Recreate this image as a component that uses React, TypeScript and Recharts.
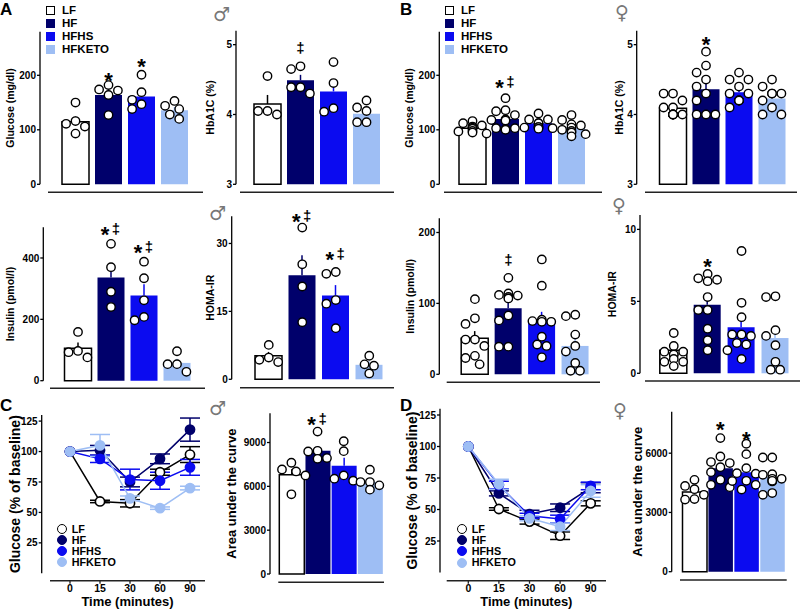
import React from 'react';
import { ComposedChart, Bar, Cell, ErrorBar, Scatter, Line, XAxis, YAxis } from 'recharts';

const FONT = '"Liberation Sans", Arial, Helvetica, sans-serif';
const SYMBOL_FONT = '"DejaVu Sans", sans-serif';

const GROUPS = ['LF', 'HF', 'HFHS', 'HFKETO'];
const FILL: Record<string, string> = { LF: '#ffffff', HF: '#00006b', HFHS: '#0b0bf0', HFKETO: '#9ebef4' };
const INK: Record<string, string> = { LF: '#000000', HF: '#00006b', HFHS: '#0b0bf0', HFKETO: '#9ebef4' };

type Sig = { g: number; y: number; mark: string };

// ---- A: male glucose / HbA1C
const glucoseMaleMean = [115, 164, 161, 136];
const glucoseMalePts = [
  [150, 111, 116, 106, 93],
  [182, 172, 164, 174, 127],
  [201, 169, 155, 147, 138],
  [153, 144, 138, 128, 120],
];
const glucoseMaleSig: Sig[] = [{ g: 1, y: 199, mark: '*' }, { g: 2, y: 226, mark: '*' }];

const hba1cMaleMean = [4.15, 4.49, 4.33, 4.01];
const hba1cMalePts = [
  [4.55, 4.05, 4.0, 4.05],
  [4.69, 4.65, 4.39, 4.3, 4.39],
  [4.75, 4.45, 4.04, 4.09],
  [4.2, 4.1, 4.05, 3.89, 3.89],
];
const hba1cMaleSig: Sig[] = [{ g: 1, y: 4.95, mark: '‡' }];

// ---- B: female glucose / HbA1C
const glucoseFemaleMean = [103, 120, 112, 104];
const glucoseFemalePts = [
  [116, 112, 108, 106, 104, 102, 98, 97, 95, 93],
  [158, 136, 134, 127, 119, 117, 103, 101, 100, 103, 118],
  [130, 119, 119, 112, 112, 105, 105, 104, 103, 102],
  [127, 118, 110, 108, 104, 100, 98, 95, 92, 88],
];
const glucoseFemaleSig: Sig[] = [{ g: 1, y: 186, mark: '*‡' }];

const hba1cFemaleMean = [4.09, 4.36, 4.32, 4.23];
const hba1cFemalePts = [
  [4.3, 4.3, 4.2, 4.1, 4.1, 4.0, 4.0, 4.0, 4.0, 4.0],
  [4.9, 4.7, 4.6, 4.5, 4.4, 4.3, 4.2, 4.0, 4.0, 4.0],
  [4.6, 4.5, 4.5, 4.4, 4.3, 4.3, 4.2, 4.2, 4.2, 4.1],
  [4.5, 4.4, 4.3, 4.3, 4.3, 4.1, 4.2, 4.0, 4.0],
];
const hba1cFemaleSig: Sig[] = [{ g: 1, y: 5.08, mark: '*' }];

// ---- row 2: insulin / HOMA-IR
const insulinMaleMean = [106, 336, 278, 58];
const insulinMalePts = [
  [159, 97, 93, 76],
  [446, 370, 290, 240],
  [388, 334, 262, 197, 208],
  [96, 54, 54, 29],
];
const insulinMaleSig: Sig[] = [{ g: 1, y: 494, mark: '*‡' }, { g: 2, y: 435, mark: '*‡' }];

const homaMaleMean = [5.2, 23.0, 18.5, 3.2];
const homaMalePts = [
  [7.6, 4.8, 3.8, 4.3],
  [33.5, 25.4, 20.5, 12.6],
  [23.3, 23.7, 17.5, 16.7, 11.3],
  [5.2, 3.3, 3.0, 1.3],
];
const homaMaleSig: Sig[] = [{ g: 1, y: 35.9, mark: '*‡' }, { g: 2, y: 27.6, mark: '*‡' }];

const insulinFemaleMean = [51, 93, 75, 40];
const insulinFemalePts = [
  [106, 79, 71, 49, 49, 40, 26, 23, 14],
  [136, 114, 112, 111, 109, 107, 83, 76, 39, 39],
  [162, 125, 77, 75, 74, 74, 53, 42, 40, 24],
  [84, 82, 56, 40, 32, 16, 5, 5],
];
const insulinFemaleSig: Sig[] = [{ g: 1, y: 161, mark: '‡' }];

const homaFemaleMean = [1.6, 4.76, 3.2, 2.45];
const homaFemalePts = [
  [2.8, 1.9, 1.5, 1.5, 1.3, 1.3, 1.0, 0.8, 0.8, 0.5],
  [6.9, 6.6, 6.5, 6.4, 5.3, 4.4, 4.4, 3.1, 2.3, 1.6],
  [8.5, 4.9, 3.9, 2.7, 2.7, 2.6, 2.1, 2.0, 1.6, 1.0],
  [5.35, 5.3, 3.0, 2.6, 1.95, 0.8, 0.25, 0.25],
];
const homaFemaleSig: Sig[] = [{ g: 1, y: 7.8, mark: '*' }];

// ---- C / D: insulin tolerance curves
const TIMES = ['0', '15', '30', '60', '90'];

const ittMaleLF = [100, 59, 57.5, 83, 97.5];
const ittMaleLFSem = [0, 1, 3, 2.5, 6.5];
const ittMaleHF = [100, 101, 75, 94, 118];
const ittMaleHFSem = [0, 4, 4, 4, 9.5];
const ittMaleHFHS = [100, 94, 77, 76, 87];
const ittMaleHFHSSem = [0, 3, 8.5, 7, 6.5];
const ittMaleHFKETO = [100, 105, 61.5, 53.5, 70];
const ittMaleHFKETOSem = [0, 9, 2, 1, 1.5];

const ittFemaleLF = [100, 50.4, 40.4, 29.2, 54.9];
const ittFemaleLFSem = [0, 1, 2, 3, 2];
const ittFemaleHF = [100, 62.8, 46.4, 51.4, 67.3];
const ittFemaleHFSem = [0, 2, 3, 3, 4];
const ittFemaleHFHS = [100, 69.4, 45, 42.5, 68.7];
const ittFemaleHFHSSem = [0, 3, 2, 3, 3];
const ittFemaleHFKETO = [100, 70, 43, 36.3, 64.7];
const ittFemaleHFKETOSem = [0, 4, 2, 3, 5];

const aucMaleMean = [6800, 8430, 7410, 6290];
const aucMalePts = [
  [7614, 7021, 7157, 6748, 5453],
  [9748, 8385, 8432, 7887, 7932],
  [9087, 8410, 6750, 6387, 6523],
  [7137, 6292, 6292, 6067, 5774],
];
const aucMaleSig: Sig[] = [{ g: 1, y: 10600, mark: '*‡' }];

const aucFemaleMean = [4030, 5240, 5040, 4790];
const aucFemalePts = [
  [4650, 4178, 4340, 3894, 3675, 3650],
  [6764, 5831, 5551, 5500, 5294, 5040, 4650, 4400, 4280],
  [6476, 5952, 5243, 4990, 4960, 4590, 4400, 4157, 4600],
  [5781, 5781, 4939, 4905, 4703, 4570, 4703, 3894, 3980, 4600],
];
const aucFemaleSig: Sig[] = [{ g: 1, y: 7440, mark: '*' }, { g: 2, y: 6970, mark: '*' }];

const sem = (a: number[]) => {
  const m = a.reduce((s, v) => s + v, 0) / a.length;
  const sd = Math.sqrt(a.reduce((s, v) => s + (v - m) ** 2, 0) / (a.length - 1));
  return sd / Math.sqrt(a.length);
};

// push dots sideways so they don't overlap (pixel offsets)
function swarm(vals: number[], ppu: number) {
  const order = vals.map((_, i) => i).sort((a, b) => vals[b] - vals[a]);
  const placed: { x: number; y: number }[] = [];
  const out = new Array(vals.length).fill(0);
  order.forEach((i) => {
    const y = vals[i] * ppu;
    let pick = 0;
    for (const k of [0, -1, 1, -2, 2, -3, 3]) {
      const x = k * 4.7;
      if (placed.every((p) => Math.hypot(p.x - x, p.y - y) >= 9)) {
        pick = x;
        break;
      }
    }
    placed.push({ x: pick, y });
    out[i] = pick;
  });
  return out;
}

const tickStyle = { fontSize: 10, fontWeight: 700, fill: '#000', fontFamily: FONT };

const OpenDot = (p: any) => (
  <circle cx={p.cx} cy={p.cy} r={4.2} fill="#fff" stroke="#000" strokeWidth={1.4} />
);

const SigMark = (p: any) => {
  const { cx, cy, payload } = p;
  const st = { fontFamily: FONT, fontWeight: 700, fill: '#000' } as any;
  const star = (x: number) => (
    <text x={x} y={cy + 12.5} textAnchor="middle" fontSize={22} style={st}>*</text>
  );
  const dag = (x: number) => (
    <text x={x} y={cy + 4.5} textAnchor="middle" fontSize={15} style={st}>‡</text>
  );
  if (payload.mark === '*') return <g>{star(cx)}</g>;
  if (payload.mark === '‡') return <g>{dag(cx)}</g>;
  return <g>{star(cx - 6)}{dag(cx + 5)}</g>;
};

type Frame = {
  box: [number, number, number, number]; // left, top, right, bottom
  yAxisX: number;
  plot: [number, number, number, number]; // left, right, top, bottom
  xLineY: number;
  domain: [number, number];
  ticks: number[];
  label: string;
  labelX: number;
  labelSize: number;
  padL: number;
  padR: number;
};

function BarPanel(props: Frame & { means: number[]; pts: number[][]; sig: Sig[]; barSize: number }) {
  const { box, yAxisX, plot, xLineY, domain, ticks, label, labelX, labelSize, padL, padR, means, pts, sig, barSize } = props;
  const [bl, bt, br, bb] = box;
  const [pl, pr, pt, pb] = plot;
  const pitch = (pr - pl - padL - padR) / 4;
  const ppu = (pb - pt) / (domain[1] - domain[0]);

  const rows = means.map((m, i) => ({ x: i, mean: m, ['e' + GROUPS[i]]: [0, sem(pts[i])] }));
  const dots = pts.flatMap((vals, gi) => {
    const dx = swarm(vals, ppu);
    return vals.map((v, k) => ({ x: gi + dx[k] / pitch, v }));
  });
  const marks = sig.map((s) => ({ x: s.g, v: s.y, mark: s.mark }));

  const xCommon = { type: 'number' as const, dataKey: 'x', domain: [-0.5, 3.5], padding: { left: padL, right: padR }, tick: false, tickLine: false };
  const yCommon = { type: 'number' as const, domain };

  // bars sit on the "main" x axis; the dots go on the (identically scaled) "gap" axis
  // so that their small x offsets don't shrink the bar band
  return (
    <div style={{ position: 'absolute', left: bl, top: bt }}>
      <ComposedChart width={br - bl} height={bb - bt} data={rows} margin={{ top: pt - bt, right: br - pr, bottom: 0, left: 0 }}>
        <XAxis xAxisId="gap" {...xCommon} height={xLineY - pb} axisLine={false} />
        <XAxis xAxisId="main" {...xCommon} height={bb - xLineY} axisLine={{ stroke: '#222', strokeWidth: 1.6 }} />
        <YAxis yAxisId="gap" {...yCommon} width={pl - yAxisX} axisLine={false} tick={false} tickLine={false} />
        <YAxis
          yAxisId="main"
          {...yCommon}
          width={yAxisX - bl}
          ticks={ticks}
          interval={0}
          tickSize={3}
          tickMargin={1}
          tick={tickStyle}
          axisLine={{ stroke: '#000', strokeWidth: 1.3 }}
          tickLine={{ stroke: '#000', strokeWidth: 1.3 }}
          label={{ value: label, angle: -90, position: 'insideLeft', offset: labelX - bl, style: { textAnchor: 'middle', fontSize: labelSize, fontWeight: 700, fontFamily: FONT, fill: '#000' } }}
        />
        <Bar xAxisId="main" yAxisId="main" dataKey="mean" barSize={barSize} isAnimationActive={false}>
          {rows.map((_, i) => (
            <Cell key={i} fill={FILL[GROUPS[i]]} stroke={GROUPS[i] === 'LF' ? '#000' : 'none'} strokeWidth={1.5} />
          ))}
          {GROUPS.map((g) => (
            <ErrorBar key={g} dataKey={'e' + g} width={0} stroke={INK[g]} strokeWidth={1.5} direction="y" />
          ))}
        </Bar>
        <Scatter xAxisId="gap" yAxisId="main" data={dots} dataKey="v" shape={OpenDot} isAnimationActive={false} />
        <Scatter xAxisId="gap" yAxisId="main" data={marks} dataKey="v" shape={SigMark} isAnimationActive={false} />
      </ComposedChart>
    </div>
  );
}

function LinePanel(props: Frame & { means: number[][]; sems: number[][] }) {
  const { box, yAxisX, plot, xLineY, domain, ticks, label, labelX, labelSize, padL, padR, means, sems } = props;
  const [bl, bt, br, bb] = box;
  const [pl, pr, pt, pb] = plot;

  const rows = TIMES.map((t, i) => {
    const r: any = { t };
    GROUPS.forEach((g, gi) => {
      r[g] = means[gi][i];
      r[g + 'e'] = sems[gi][i];
    });
    return r;
  });

  const xCommon = { type: 'category' as const, dataKey: 't', scale: 'point' as const, padding: { left: padL, right: padR } };
  const yCommon = { type: 'number' as const, domain };

  return (
    <div style={{ position: 'absolute', left: bl, top: bt }}>
      <ComposedChart width={br - bl} height={bb - bt} data={rows} margin={{ top: pt - bt, right: br - pr, bottom: 0, left: 0 }}>
        <XAxis xAxisId="gap" {...xCommon} height={xLineY - pb} axisLine={false} tick={false} tickLine={false} />
        <XAxis
          xAxisId="main"
          {...xCommon}
          height={bb - xLineY}
          interval={0}
          tickSize={3}
          tickMargin={1}
          tick={{ ...tickStyle, fontSize: 10.5 }}
          axisLine={{ stroke: '#222', strokeWidth: 1.6 }}
          tickLine={{ stroke: '#222', strokeWidth: 1.3 }}
          label={{ value: 'Time (minutes)', position: 'insideBottom', offset: 3, style: { fontSize: 13, fontWeight: 700, fontFamily: FONT, fill: '#000' } }}
        />
        <YAxis yAxisId="gap" {...yCommon} width={pl - yAxisX} axisLine={false} tick={false} tickLine={false} />
        <YAxis
          yAxisId="main"
          {...yCommon}
          width={yAxisX - bl}
          ticks={ticks}
          interval={0}
          tickSize={3}
          tickMargin={1}
          tick={tickStyle}
          axisLine={{ stroke: '#000', strokeWidth: 1.3 }}
          tickLine={{ stroke: '#000', strokeWidth: 1.3 }}
          label={{ value: label, angle: -90, position: 'insideLeft', offset: labelX - bl, style: { textAnchor: 'middle', fontSize: labelSize, fontWeight: 700, fontFamily: FONT, fill: '#000' } }}
        />
        {GROUPS.map((g) => (
          <Line
            key={g}
            xAxisId="main"
            yAxisId="main"
            dataKey={g}
            stroke={INK[g]}
            strokeWidth={1.5}
            isAnimationActive={false}
            dot={(p: any) => (
              <circle key={p.index} cx={p.cx} cy={p.cy} r={4.6} fill={g === 'LF' ? '#fff' : FILL[g]} stroke={INK[g]} strokeWidth={1.6} />
            )}
            activeDot={false}
          >
            <ErrorBar dataKey={g + 'e'} width={10} stroke={INK[g]} strokeWidth={1.5} direction="y" />
          </Line>
        ))}
      </ComposedChart>
    </div>
  );
}

function BarLegend({ left, top, step }: { left: number; top: number; step: number }) {
  return (
    <>
      {GROUPS.map((g, i) => (
        <div key={g} style={{ position: 'absolute', left, top: top + i * step, height: 12, display: 'flex', alignItems: 'center' }}>
          <span style={{ width: 9, height: 9, boxSizing: 'border-box', background: FILL[g], border: `1.5px solid ${INK[g]}`, marginRight: 7.5 }} />
          <span style={{ font: `700 11.5px ${FONT}`, lineHeight: '12px', color: '#000' }}>{g}</span>
        </div>
      ))}
    </>
  );
}

function LineLegend({ left, top, step }: { left: number; top: number; step: number }) {
  return (
    <>
      {GROUPS.map((g, i) => (
        <div key={g} style={{ position: 'absolute', left, top: top + i * step, height: 11, display: 'flex', alignItems: 'center' }}>
          <span style={{ width: 10, height: 10, boxSizing: 'border-box', borderRadius: '50%', background: g === 'LF' ? '#fff' : FILL[g], border: `1.6px solid ${INK[g]}`, marginRight: 5 }} />
          <span style={{ font: `700 10.8px ${FONT}`, lineHeight: '11px', color: '#000' }}>{g}</span>
        </div>
      ))}
    </>
  );
}

const Letter = ({ x, y, text }: { x: number; y: number; text: string }) => (
  <div style={{ position: 'absolute', left: x, top: y, font: `700 17px ${FONT}`, lineHeight: '19px', color: '#000' }}>{text}</div>
);

const Sex = ({ cx, cy, text }: { cx: number; cy: number; text: string }) => (
  <div style={{ position: 'absolute', left: cx - 12, top: cy - 12, width: 24, height: 24, textAlign: 'center', font: `400 19px ${SYMBOL_FONT}`, lineHeight: '24px', color: '#777' }}>{text}</div>
);

export default function App() {
  return (
    <div style={{ position: 'absolute', left: 0, top: 0, width: 800, height: 609, background: '#fff', overflow: 'hidden', fontFamily: FONT }}>
      {/* row 1 */}
      <BarPanel box={[0, 17, 203, 198]} yAxisX={40} plot={[48, 203, 31.7, 184.3]} xLineY={192.3} domain={[0, 280]} ticks={[0, 100, 200]}
        label="Glucose (mg/dl)" labelX={10} labelSize={10.5} padL={11} padR={12} means={glucoseMaleMean} pts={glucoseMalePts} sig={glucoseMaleSig} barSize={27} />
      <BarPanel box={[200, 16, 394, 198]} yAxisX={236} plot={[240, 394, 30.7, 184.3]} xLineY={192.3} domain={[3, 5.2]} ticks={[3, 4, 5]}
        label="HbA1C (%)" labelX={210} labelSize={10.5} padL={11} padR={11} means={hba1cMaleMean} pts={hba1cMalePts} sig={hba1cMaleSig} barSize={27} />
      <BarPanel box={[400, 17, 602, 198]} yAxisX={439.3} plot={[444, 602, 31.7, 184.3]} xLineY={192.3} domain={[0, 280]} ticks={[0, 100, 200]}
        label="Glucose (mg/dl)" labelX={409} labelSize={10.5} padL={12} padR={14} means={glucoseFemaleMean} pts={glucoseFemalePts} sig={glucoseFemaleSig} barSize={27} />
      <BarPanel box={[600, 16, 800, 198]} yAxisX={636.7} plot={[645, 797, 30.7, 184.3]} xLineY={192.3} domain={[3, 5.2]} ticks={[3, 4, 5]}
        label="HbA1C (%)" labelX={619} labelSize={10.5} padL={11.5} padR={8.5} means={hba1cFemaleMean} pts={hba1cFemalePts} sig={hba1cFemaleSig} barSize={27} />

      {/* row 2 */}
      <BarPanel box={[0, 212, 205, 394]} yAxisX={43.3} plot={[50, 205, 227.3, 380.7]} xLineY={388.3} domain={[0, 500]} ticks={[0, 200, 400]}
        label="Insulin (pmol/l)" labelX={10} labelSize={10.5} padL={11.5} padR={11.5} means={insulinMaleMean} pts={insulinMalePts} sig={insulinMaleSig} barSize={27} />
      <BarPanel box={[200, 202, 394, 393]} yAxisX={231.7} plot={[240, 394, 216.3, 379.3]} xLineY={387.7} domain={[0, 36]} ticks={[0, 15, 30]}
        label="HOMA-IR" labelX={210} labelSize={10.5} padL={12} padR={8} means={homaMaleMean} pts={homaMalePts} sig={homaMaleSig} barSize={27} />
      <BarPanel box={[400, 203, 600, 388]} yAxisX={439.3} plot={[446.7, 600, 218.3, 374.3]} xLineY={382.3} domain={[0, 220]} ticks={[0, 100, 200]}
        label="Insulin (pmol/l)" labelX={410} labelSize={10.5} padL={11.5} padR={8} means={insulinFemaleMean} pts={insulinFemalePts} sig={insulinFemaleSig} barSize={27} />
      <BarPanel box={[600, 200, 800, 387]} yAxisX={640} plot={[645, 800, 215, 373.3]} xLineY={381} domain={[0, 11]} ticks={[0, 5, 10]}
        label="HOMA-IR" labelX={612} labelSize={10.5} padL={11.8} padR={7.6} means={homaFemaleMean} pts={homaFemalePts} sig={homaFemaleSig} barSize={27} />

      {/* row 3 */}
      <LinePanel box={[0, 405, 205, 609]} yAxisX={41.7} plot={[50, 205, 415, 573.3]} xLineY={580.7} domain={[0, 130]} ticks={[25, 50, 75, 100, 125]}
        label="Glucose (% of baseline)" labelX={15} labelSize={14} padL={20} padR={15}
        means={[ittMaleLF, ittMaleHF, ittMaleHFHS, ittMaleHFKETO]} sems={[ittMaleLFSem, ittMaleHFSem, ittMaleHFHSSem, ittMaleHFKETOSem]} />
      <BarPanel box={[200, 398, 386, 588]} yAxisX={270} plot={[278.3, 384, 413.3, 574]} xLineY={582.3} domain={[0, 11000]} ticks={[0, 3000, 6000, 9000]}
        label="Area under the curve" labelX={231} labelSize={13} padL={0} padR={1} means={aucMaleMean} pts={aucMalePts} sig={aucMaleSig} barSize={25} />
      <LinePanel box={[400, 399, 606, 609]} yAxisX={440} plot={[446.7, 606, 408.7, 572.5]} xLineY={580.7} domain={[0, 130]} ticks={[25, 50, 75, 100, 125]}
        label="Glucose (% of baseline)" labelX={412} labelSize={14} padL={21.6} padR={15.3}
        means={[ittFemaleLF, ittFemaleHF, ittFemaleHFHS, ittFemaleHFKETO]} sems={[ittFemaleLFSem, ittFemaleHFSem, ittFemaleHFHSSem, ittFemaleHFKETOSem]} />
      <BarPanel box={[600, 398, 790, 586]} yAxisX={671.7} plot={[680, 786.7, 411.7, 571.7]} xLineY={580} domain={[0, 8100]} ticks={[0, 3000, 6000]}
        label="Area under the curve" labelX={637} labelSize={13} padL={1.5} padR={1.5} means={aucFemaleMean} pts={aucFemalePts} sig={aucFemaleSig} barSize={24.5} />

      {/* legends, letters, sex symbols */}
      <BarLegend left={45.5} top={4} step={13.1} />
      <BarLegend left={444.5} top={4} step={13.1} />
      <LineLegend left={56.7} top={523.5} step={11} />
      <LineLegend left={456.7} top={523.5} step={11.2} />

      <Letter x={0} y={0} text="A" />
      <Letter x={400} y={0} text="B" />
      <Letter x={0} y={396} text="C" />
      <Letter x={400} y={396} text="D" />

      <Sex cx={221.5} cy={13.5} text="♂" />
      <Sex cx={622} cy={12} text="♀" />
      <Sex cx={217.5} cy={212.5} text="♂" />
      <Sex cx={619} cy={205} text="♀" />
      <Sex cx={217.5} cy={407.5} text="♂" />
      <Sex cx={620} cy={410} text="♀" />
    </div>
  );
}
